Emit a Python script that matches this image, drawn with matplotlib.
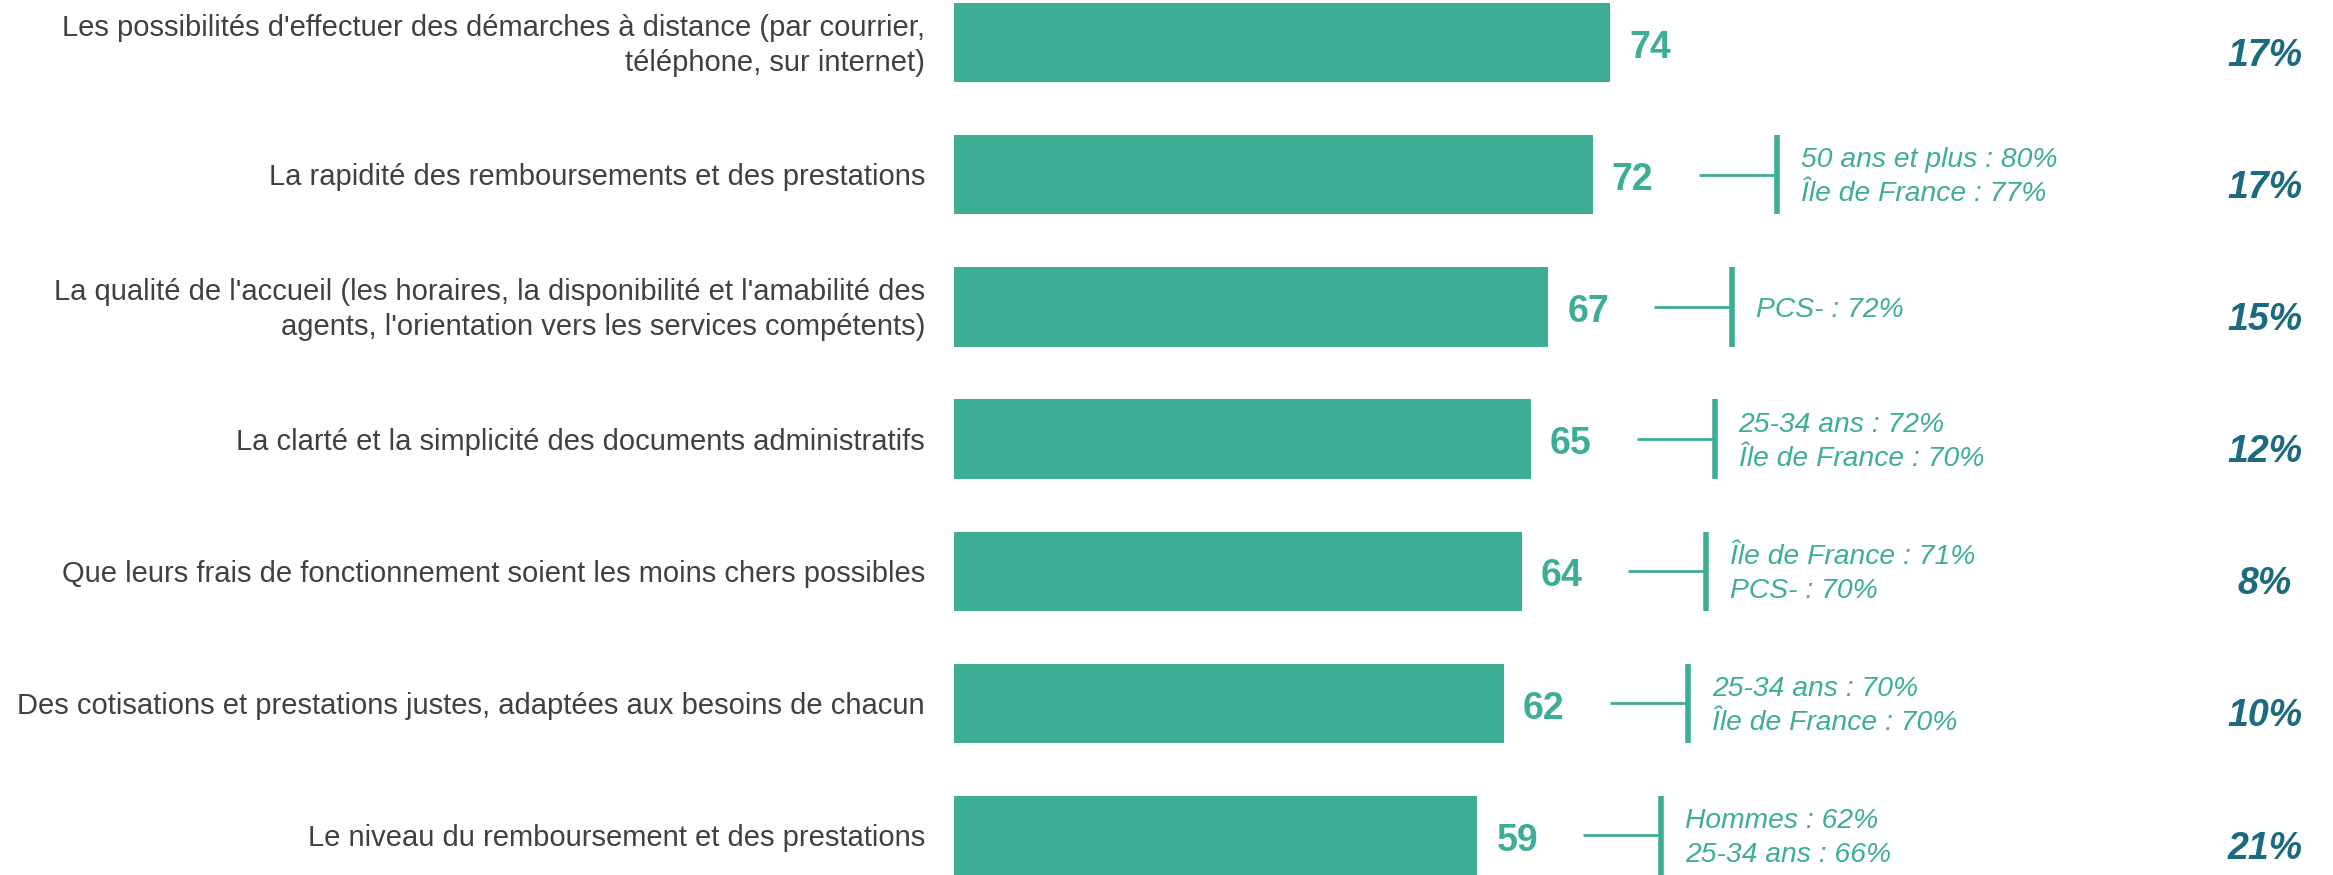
import matplotlib
matplotlib.use("Agg")
import matplotlib.pyplot as plt

# Data
categories = [
    "Les possibilités d'effectuer des démarches à distance (par courrier,\ntéléphone, sur internet)",
    "La rapidité des remboursements et des prestations",
    "La qualité de l'accueil (les horaires, la disponibilité et l'amabilité des\nagents, l'orientation vers les services compétents)",
    "La clarté et la simplicité des documents administratifs",
    "Que leurs frais de fonctionnement soient les moins chers possibles",
    "Des cotisations et prestations justes, adaptées aux besoins de chacun",
    "Le niveau du remboursement et des prestations",
]
values = [74, 72, 67, 65, 64, 62, 59]
subgroups = [
    [],
    ["50 ans et plus : 80%", "Île de France : 77%"],
    ["PCS- : 72%"],
    ["25-34 ans : 72%", "Île de France : 70%"],
    ["Île de France : 71%", "PCS- : 70%"],
    ["25-34 ans : 70%", "Île de France : 70%"],
    ["Hommes : 62%", "25-34 ans : 66%"],
]
first_rank = ["17%", "17%", "15%", "12%", "8%", "10%", "21%"]

BAR = "#3DAE95"
DARK = "#1C6A80"
GREY = "#404040"

plt.rcParams["font.family"] = ["Liberation Sans", "DejaVu Sans"]

W, H, DPI = 2333, 875, 100
fig = plt.figure(figsize=(W / DPI, H / DPI), dpi=DPI)

left_px = 954
px_per_unit = 8.87
ax = fig.add_axes([left_px / W, 0, 1 - left_px / W, 1])
ax.set_xlim(0, (W - left_px) / px_per_unit)
bar_h = 0.6
ax.set_ylim(6.3, -0.323)
ax.axis("off")

u = 1 / px_per_unit  # one pixel in data units
y = list(range(len(values)))
ax.barh(y, values, height=bar_h, color=BAR, edgecolor="none")

for i, (v, cat, sub, fr) in enumerate(zip(values, categories, subgroups, first_rank)):
    ax.text(-29 * u, i + 0.02, cat, ha="right", va="center", fontsize=21,
            color=GREY, linespacing=1.3, clip_on=False)
    ax.text(v + 19 * u, i + 0.04, str(v), ha="left", va="center", fontsize=27,
            fontweight="bold", color=BAR)
    if sub:
        x0 = v + 106 * u
        x1 = x0 + 78 * u
        ax.plot([x0, x1], [i, i], color=BAR, lw=2, solid_capstyle="butt")
        ax.plot([x1, x1], [i - bar_h / 2, i + bar_h / 2], color=BAR, lw=4,
                solid_capstyle="butt")
        ax.text(x1 + 24 * u, i + 0.02, "\n".join(sub), ha="left", va="center",
                fontsize=20.3, style="italic", color=BAR, linespacing=1.4)
    ax.text(2265 * u - left_px * u, i + 0.1, fr, ha="center", va="center",
            fontsize=27, fontweight="bold", style="italic", color=DARK)

fig.savefig("out.png", dpi=DPI)
